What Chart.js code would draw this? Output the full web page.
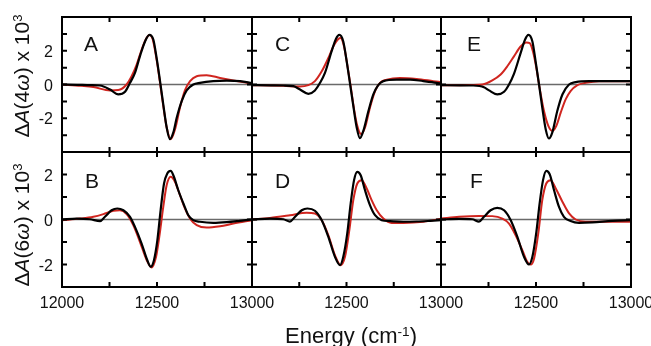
<!DOCTYPE html>
<html>
<head>
<meta charset="utf-8">
<script src="https://cdn.jsdelivr.net/npm/chart.js@4.4.0/dist/chart.umd.min.js"></script>
<style>
  html, body { margin: 0; padding: 0; background: #fff; }
  #fig { position: relative; width: 651px; height: 346px; overflow: hidden;
         font-family: "Liberation Sans", Arial, sans-serif; color: #111; }
  #fig canvas { position: absolute; left: 0; top: 0; }
  .ytitle { position: absolute; white-space: nowrap; font-size: 21px; line-height: 21px;
            transform: translate(-50%, -50%) rotate(-90deg); }
  .xtitle { position: absolute; white-space: nowrap; font-size: 22px; line-height: 22px;
            transform: translateX(-50%); }
  sup { font-size: 0.62em; position: relative; top: -0.55em; vertical-align: baseline; }
</style>
</head>
<body>
<div id="fig">
  <canvas id="pA" width="651" height="346"></canvas>
  <canvas id="pC" width="651" height="346"></canvas>
  <canvas id="pE" width="651" height="346"></canvas>
  <canvas id="pB" width="651" height="346"></canvas>
  <canvas id="pD" width="651" height="346"></canvas>
  <canvas id="pF" width="651" height="346"></canvas>
  <div class="ytitle" style="left:23px; top:76px;">&Delta;<i>A</i>(4<i>&omega;</i>) x 10<sup>3</sup></div>
  <div class="ytitle" style="left:23px; top:225px;">&Delta;<i>A</i>(6<i>&omega;</i>) x 10<sup>3</sup></div>
  <div class="xtitle" style="left:351px; top:325px;">Energy (cm<sup>-1</sup>)</div>
</div>
<script>
// axis ticks / labels
const xMinor = [12250, 12500, 12750];
const xLabelsFirst = [12000, 12500, 13000];
const xLabelsOther = [12500, 13000];
const yTicks4 = [-3, -2, -1, 0, 1, 2, 3];
const yTicks6 = [-2, -1, 0, 1, 2];
const yLabels = [-2, 0, 2];

// A: dA(4w), black = experiment, red = fit
const aBlackX = [12000, 12080, 12150, 12200, 12253, 12296, 12332, 12358, 12384, 12410, 12437, 12460, 12481, 12498, 12516, 12533, 12551, 12568, 12586, 12604, 12630, 12656, 12691, 12726, 12796, 12867, 12937, 13000];
const aBlackY = [0, -0.02, -0.04, -0.06, -0.3, -0.59, -0.43, 0.1, 0.69, 1.67, 2.55, 2.94, 2.65, 1.57, 0.2, -1.18, -2.55, -3.24, -2.84, -1.96, -0.98, -0.35, 0, 0.1, 0.2, 0.23, 0.2, 0.08];
const aRedX = [12000, 12100, 12165, 12253, 12296, 12340, 12367, 12393, 12419, 12442, 12460, 12477, 12498, 12516, 12533, 12551, 12572, 12595, 12621, 12647, 12674, 12709, 12761, 12832, 12902, 13000];
const aRedY = [0, -0.08, -0.15, -0.35, -0.33, 0, 0.5, 1.18, 2.06, 2.7, 2.94, 2.7, 1.47, 0.1, -1.27, -2.55, -3.24, -2.65, -1.37, -0.35, 0.2, 0.49, 0.55, 0.39, 0.24, 0.05];

// C
const cBlackX = [12000, 12100, 12166, 12219, 12254, 12298, 12333, 12360, 12386, 12421, 12444, 12462, 12483, 12501, 12518, 12536, 12554, 12571, 12589, 12616, 12642, 12668, 12695, 12765, 12836, 12906, 12977, 13000];
const cBlackY = [-0.04, -0.05, -0.06, -0.1, -0.3, -0.55, -0.35, 0.1, 0.69, 1.96, 2.7, 2.94, 2.55, 1.37, 0.1, -1.27, -2.55, -3.18, -2.75, -1.57, -0.59, -0.04, 0.2, 0.29, 0.29, 0.2, 0.1, 0.06];
const cRedX = [12000, 12100, 12166, 12254, 12298, 12333, 12369, 12404, 12430, 12457, 12469, 12487, 12504, 12522, 12540, 12557, 12577, 12598, 12624, 12651, 12677, 12713, 12783, 12871, 12959, 13000];
const cRedY = [-0.04, -0.06, -0.08, -0.12, -0.04, 0.2, 0.78, 1.57, 2.25, 2.7, 2.75, 2.25, 1.18, -0.1, -1.47, -2.45, -2.94, -2.55, -1.37, -0.39, 0.1, 0.29, 0.39, 0.33, 0.2, 0.14];

// E
const eBlackX = [12000, 12100, 12170, 12226, 12253, 12296, 12332, 12358, 12384, 12419, 12442, 12460, 12481, 12498, 12516, 12533, 12551, 12568, 12586, 12612, 12639, 12674, 12709, 12779, 12867, 13000];
const eBlackY = [-0.04, -0.05, -0.06, -0.16, -0.35, -0.59, -0.43, 0, 0.63, 1.86, 2.65, 2.94, 2.55, 1.37, 0, -1.37, -2.65, -3.2, -2.84, -1.57, -0.59, 0, 0.14, 0.2, 0.2, 0.2];
const eRedX = [12000, 12100, 12160, 12218, 12270, 12314, 12349, 12384, 12419, 12449, 12467, 12484, 12502, 12519, 12542, 12565, 12586, 12607, 12630, 12656, 12682, 12718, 12761, 12832, 13000];
const eRedY = [-0.04, -0.04, -0.03, 0, 0.24, 0.59, 1.08, 1.67, 2.25, 2.49, 2.45, 1.96, 0.98, -0.2, -1.57, -2.45, -2.75, -2.45, -1.67, -0.88, -0.39, -0.04, 0.1, 0.2, 0.2];

// B: dA(6w)
const bBlackX = [12000, 12077, 12147, 12200, 12226, 12261, 12291, 12323, 12358, 12384, 12419, 12449, 12467, 12484, 12502, 12519, 12537, 12554, 12572, 12589, 12612, 12639, 12665, 12691, 12726, 12796, 12867, 12937, 13000];
const bBlackY = [0, 0.04, 0.01, -0.07, 0.12, 0.41, 0.49, 0.41, 0.12, -0.33, -1.07, -1.81, -2.1, -1.81, -0.92, 0.41, 1.6, 2.04, 2.16, 1.9, 1.3, 0.71, 0.19, -0.03, -0.1, -0.15, -0.12, -0.06, 0];
const bRedX = [12000, 12095, 12165, 12218, 12270, 12305, 12340, 12375, 12410, 12446, 12472, 12495, 12512, 12533, 12551, 12572, 12595, 12621, 12647, 12674, 12709, 12761, 12832, 12902, 13000];
const bRedY = [-0.03, 0.04, 0.12, 0.24, 0.39, 0.41, 0.24, -0.25, -0.99, -1.81, -2.13, -1.66, -0.77, 0.56, 1.53, 1.9, 1.67, 1.08, 0.49, 0.04, -0.25, -0.36, -0.3, -0.18, -0.03];

// D
const dBlackX = [12000, 12095, 12166, 12201, 12228, 12263, 12293, 12333, 12369, 12404, 12439, 12466, 12483, 12504, 12522, 12540, 12557, 12575, 12598, 12624, 12651, 12686, 12730, 12801, 12871, 12942, 13000];
const dBlackY = [0, 0.04, 0.01, -0.09, 0.12, 0.41, 0.49, 0.39, -0.03, -0.77, -1.66, -2.03, -1.66, -0.62, 0.71, 1.75, 2.12, 1.97, 1.3, 0.64, 0.19, -0.03, -0.07, -0.1, -0.09, -0.06, -0.03];
const dRedX = [12000, 12095, 12201, 12289, 12333, 12369, 12404, 12439, 12469, 12492, 12515, 12536, 12557, 12580, 12607, 12633, 12660, 12695, 12739, 12801, 12907, 13000];
const dRedY = [0, 0.07, 0.19, 0.3, 0.27, -0.03, -0.7, -1.59, -2.03, -1.66, -0.47, 0.86, 1.6, 1.75, 1.38, 0.86, 0.41, 0.04, -0.15, -0.15, -0.1, 0.03];

// F
const fBlackX = [12000, 12095, 12165, 12200, 12226, 12261, 12296, 12332, 12367, 12402, 12437, 12463, 12481, 12502, 12519, 12537, 12554, 12572, 12595, 12621, 12647, 12682, 12726, 12796, 12902, 13000];
const fBlackY = [0, 0.03, 0.01, -0.09, 0.12, 0.41, 0.52, 0.41, -0.03, -0.77, -1.66, -2.0, -1.66, -0.55, 0.71, 1.75, 2.16, 2.01, 1.3, 0.56, 0.12, -0.07, -0.15, -0.13, -0.06, -0.03];
const fRedX = [12000, 12095, 12200, 12270, 12323, 12358, 12393, 12428, 12454, 12472, 12490, 12512, 12533, 12554, 12577, 12604, 12639, 12674, 12709, 12761, 12867, 13000];
const fRedY = [0.04, 0.12, 0.16, 0.15, 0.04, -0.18, -0.7, -1.36, -1.88, -2.0, -1.73, -0.62, 0.86, 1.6, 1.75, 1.38, 0.79, 0.27, 0, -0.1, -0.1, -0.1];

// panel frame edges in the page (px)
const colEdges = [62, 252, 441, 631];
const rowEdges = [17, 152, 287];

const panels = [
  {id: 'pA', letter: 'A', col: 0, row: 0, lx: 22, bx: aBlackX, by: aBlackY, rx: aRedX, ry: aRedY},
  {id: 'pC', letter: 'C', col: 1, row: 0, lx: 23, bx: cBlackX, by: cBlackY, rx: cRedX, ry: cRedY},
  {id: 'pE', letter: 'E', col: 2, row: 0, lx: 26, bx: eBlackX, by: eBlackY, rx: eRedX, ry: eRedY},
  {id: 'pB', letter: 'B', col: 0, row: 1, lx: 23, bx: bBlackX, by: bBlackY, rx: bRedX, ry: bRedY},
  {id: 'pD', letter: 'D', col: 1, row: 1, lx: 23, bx: dBlackX, by: dBlackY, rx: dRedX, ry: dRedY},
  {id: 'pF', letter: 'F', col: 2, row: 1, lx: 29, bx: fBlackX, by: fBlackY, rx: fRedX, ry: fRedY}
];

const FONT = '"Liberation Sans", Arial, sans-serif';

const framePlugin = {
  id: 'frame',
  beforeDatasetsDraw(chart, args, o) {
    const {ctx, chartArea: a, scales: {y}} = chart;
    const y0 = y.getPixelForValue(0);
    ctx.save();
    ctx.strokeStyle = '#6a6a6a';
    ctx.lineWidth = 1.6;
    ctx.beginPath();
    ctx.moveTo(a.left, y0);
    ctx.lineTo(a.right, y0);
    ctx.stroke();
    ctx.restore();
  },
  afterDatasetsDraw(chart, args, o) {
    const {ctx, chartArea: a, scales: {x, y}} = chart;
    const tl = 5;
    ctx.save();
    ctx.strokeStyle = '#000';
    ctx.lineWidth = 2;
    ctx.strokeRect(a.left, a.top, a.right - a.left, a.bottom - a.top);
    ctx.beginPath();
    xMinor.forEach(v => {
      const px = x.getPixelForValue(v);
      ctx.moveTo(px, a.top); ctx.lineTo(px, a.top + tl);
      ctx.moveTo(px, a.bottom); ctx.lineTo(px, a.bottom - tl);
    });
    o.yTicks.forEach(v => {
      const py = y.getPixelForValue(v);
      ctx.moveTo(a.left, py); ctx.lineTo(a.left + tl, py);
      ctx.moveTo(a.right, py); ctx.lineTo(a.right - tl, py);
    });
    ctx.stroke();

    ctx.fillStyle = '#111';
    ctx.font = '16px ' + FONT;
    if (o.showY) {
      ctx.textAlign = 'right';
      ctx.textBaseline = 'alphabetic';
      yLabels.forEach(v => {
        ctx.fillText(String(v), a.left - 9, y.getPixelForValue(v) + 6);
      });
    }
    if (o.xLabels) {
      ctx.textAlign = 'center';
      ctx.textBaseline = 'alphabetic';
      o.xLabels.forEach(v => {
        ctx.fillText(String(v), x.getPixelForValue(v), a.bottom + 21);
      });
    }
    ctx.font = '21px ' + FONT;
    ctx.textAlign = 'left';
    ctx.fillText(o.letter, a.left + o.lx, a.top + (o.row === 0 ? 34 : 36));
    ctx.restore();
  }
};

function pts(xs, ys) {
  return xs.map((v, i) => ({x: v, y: ys[i]}));
}

panels.forEach(p => {
  const W = 651, H = 346;
  const yMax = p.row === 0 ? 4 : 3;
  new Chart(document.getElementById(p.id), {
    type: 'line',
    data: {
      datasets: [{
        label: 'experiment',
        data: pts(p.bx, p.by),
        borderColor: '#000000',
        borderWidth: 2.2,
        pointRadius: 0,
        cubicInterpolationMode: 'monotone',
        fill: false
      }, {
        label: 'fit',
        data: pts(p.rx, p.ry),
        borderColor: '#d0251f',
        borderWidth: 2,
        pointRadius: 0,
        cubicInterpolationMode: 'monotone',
        fill: false
      }]
    },
    options: {
      responsive: false,
      devicePixelRatio: 1,
      animation: false,
      events: [],
      layout: {
        padding: {
          left: colEdges[p.col],
          right: W - colEdges[p.col + 1],
          top: rowEdges[p.row],
          bottom: H - rowEdges[p.row + 1]
        }
      },
      scales: {
        x: {type: 'linear', min: 12000, max: 13000, display: false},
        y: {type: 'linear', min: -yMax, max: yMax, display: false}
      },
      plugins: {
        legend: {display: false},
        tooltip: {enabled: false},
        frame: {
          letter: p.letter,
          lx: p.lx,
          row: p.row,
          yTicks: p.row === 0 ? yTicks4 : yTicks6,
          showY: p.col === 0,
          xLabels: p.row === 1 ? (p.col === 0 ? xLabelsFirst : xLabelsOther) : null
        }
      }
    },
    plugins: [framePlugin]
  });
});
</script>
</body>
</html>
